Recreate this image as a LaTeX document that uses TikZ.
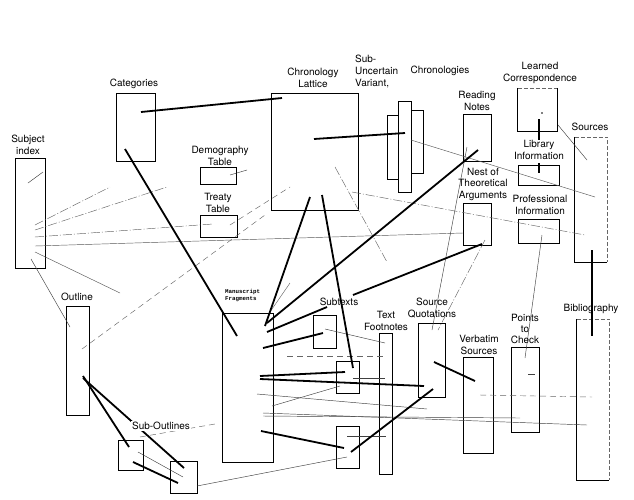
\documentclass[tikz,border=0pt]{standalone}
\usepackage{fontspec}
\setmainfont{TeX Gyre Heros}
\newfontfamily\mffont{Liberation Mono}
\usetikzlibrary{fit}
\begin{document}
\begin{tikzpicture}[x=1pt,y=-1pt,
  box/.style={draw, line width=0.7pt, inner sep=0pt},
  nobox/.style={inner sep=0pt},
  lbl/.style={font=\fontsize{10}{12}\selectfont, align=center, inner sep=0pt},
  link/.style={line width=1.8pt},
  thinl/.style={line width=0.45pt, black!75},
  faint/.style={line width=0.45pt, black!60, dash pattern=on 9pt off 2pt on 1pt off 2pt},
  dashl/.style={line width=0.45pt, black!60, dash pattern=on 6pt off 4pt},
  edgefaint/.style={line width=0.6pt, dash pattern=on 4pt off 2pt}]
\fill[white] (0,0) rectangle (634,499);
\useasboundingbox (0,0) rectangle (634,499);

% ---------- boxes ----------
\node[box, fit={(15,158) (45,268)}] (si) {};
\node[box, fit={(116,93) (155,161)}] (cat) {};
\node[box, fit={(200,167) (236,184)}] (demo) {};
\node[box, fit={(200,215) (237,237)}] (treaty) {};
\node[box, fit={(271,93) (358,210)}] (cl) {};
\node[box, fit={(387,115) (398,179)}] (suA) {};
\node[box, fit={(411,110) (423,173)}] (suC) {};
\node[box, fit={(398,101) (411,192)}] (suB) {};
\node[box, fit={(463,114) (491,161)}] (rn) {};
\node[box, fit={(463,203) (491,245)}] (nest) {};
\node[nobox, fit={(518,88) (557,131)}] (lc) {};
\draw[line width=0.7pt] (lc.north west) -- (lc.south west) -- (lc.south east) -- (lc.north east);
\draw[edgefaint, black!60] (lc.north west) -- (lc.north east);
\node[box, fit={(518,165) (559,185)}] (lib) {};
\node[box, fit={(518,219) (559,243)}] (prof) {};
\node[nobox, fit={(575,137) (607,262)}] (src) {};
\draw[line width=0.7pt] (src.north west) -- (src.south west) -- (src.south east);
\draw[edgefaint, black!60] (src.north west) -- (src.north east) -- (src.south east);
\node[nobox, fit={(577,319) (609,480)}] (bib) {};
\draw[line width=0.7pt] (bib.north west) -- (bib.south west) -- (bib.south east);
\draw[edgefaint, black!60] (bib.north west) -- (bib.north east) -- (bib.south east);
\node[box, fit={(66,306) (89,415)}] (outl) {};
\node[box, fit={(118,440) (143,470)}] (so1) {};
\node[box, fit={(170,461) (197,493)}] (so2) {};
\node[box, fit={(222,313) (273,462)}] (mf) {};
\node[box, fit={(313,315) (336,348)}] (st1) {};
\node[box, fit={(336,361) (359,393)}] (st2) {};
\node[box, fit={(336,426) (359,468)}] (st3) {};
\node[box, fit={(379,333) (392,474)}] (tf) {};
\node[box, fit={(418,323) (445,397)}] (sq) {};
\node[box, fit={(463,357) (493,453)}] (vs) {};
\node[box, fit={(511,347) (539,432)}] (ptc) {};

% ---------- end points ----------
\coordinate (catA) at (141,112);  \coordinate (clA) at (282,98);
\coordinate (clB) at (314,139);   \coordinate (suX) at (405,133);
\coordinate (catB) at (125,149);  \coordinate (mfA) at (237,336);
\coordinate (clC) at (310,197);   \coordinate (mfB) at (265,326);
\coordinate (clD) at (322,195);   \coordinate (st2A) at (353,368);
\coordinate (rnA) at (478,150);   \coordinate (mfC) at (267,323);
\coordinate (nestA) at (482,244); \coordinate (stlA) at (353,295);
\coordinate (mfD) at (267,332);   \coordinate (stlB) at (327,307);
\coordinate (mfE) at (263,348);   \coordinate (st1A) at (323,333);
\coordinate (mfF) at (260,376);   \coordinate (st2B) at (345,372);
\coordinate (mfG) at (260,379);   \coordinate (sqA) at (424,386);
\coordinate (mfH) at (261,431);   \coordinate (st3A) at (344,448);
\coordinate (st3B) at (351,452);  \coordinate (sqB) at (433,389);
\coordinate (sqC) at (434,362);   \coordinate (vsA) at (475,381);
\coordinate (olA) at (83,376);    \coordinate (so1A) at (129,447);
\coordinate (olB) at (83,378);    \coordinate (so2A) at (184,468);
\coordinate (so1B) at (133,462);  \coordinate (so2B) at (178,483);
\coordinate (srcA) at (592,250);  \coordinate (bibA) at (592,336);
\coordinate (lcA) at (539,119);   \coordinate (libA) at (539,140);
\coordinate (libB) at (539,163);  \coordinate (libC) at (539,173);

% ---------- faint links ----------
\draw[faint] (35,225) -- (110,187);
\draw[faint] (35,230) -- (167,187);
\draw[faint] (35,237) -- (213,224);
\draw[thinl, black!65] (35,246) -- (463,233);
\draw[thinl, black!65] (35,252) -- (120,293);
\draw[thinl] (31,259) -- (70,327);
\draw[thinl] (28,183) -- (43,172);
\draw[thinl] (230,175) -- (247,170);
\draw[dashl] (230,225) -- (290,187);
\draw[dashl] (82,349) -- (265,215);
\draw[thinl, black!65] (411,140) -- (595,197);
\draw[faint] (352,192) -- (585,235);
\draw[thinl] (467,147) -- (432,330);
\draw[faint] (485,240) -- (438,330);
\draw[thinl] (542,235) -- (525,358);
\draw[faint] (335,167) -- (387,262);
\draw[thinl] (558,125) -- (587,160);
\draw[thinl, black!60] (270,312) -- (290,283);
\draw[thinl] (138,452) -- (183,477);
\draw[thinl] (197,486) -- (347,457);
\draw[dashl] (140,437) -- (215,424);
\draw[thinl] (257,394) -- (427,409);
\draw[thinl] (263,413) -- (587,425);
\draw[thinl] (263,416) -- (520,418);
\draw[thinl] (340,386) -- (272,406);
\draw[thinl] (325,329) -- (385,343);
\draw[dashl] (287,356) -- (385,356);
\draw[thinl] (353,378) -- (385,378);
\draw[thinl] (347,436) -- (386,436);
\draw[dashl] (480,395) -- (592,397);
\draw[thinl] (528,374) -- (535,374);
\fill (542,113) circle (0.8);

% ---------- heavy links ----------
\draw[link] (catA) -- (clA);
\draw[link] (clB) -- (suX);
\draw[link] (catB) -- (mfA);
\draw[link] (clC) -- (mfB);
\draw[link] (clD) -- (st2A);
\draw[link] (rnA) -- (mfC);
\draw[link] (nestA) -- (stlA);
\draw[link] (mfD) -- (stlB);
\draw[link] (mfE) -- (st1A);
\draw[link] (mfF) -- (st2B);
\draw[link] (mfG) -- (sqA);
\draw[link] (mfH) -- (st3A);
\draw[link] (st3B) -- (sqB);
\draw[link] (sqC) -- (vsA);
\draw[link] (olA) -- (so1A);
\draw[link] (olB) -- (so2A);
\draw[link] (so1B) -- (so2B);
\draw[link] (srcA) -- (bibA);
\draw[link] (lcA) -- (libA);
\draw[link] (libB) -- (libC);

% ---------- labels ----------
\node[lbl] (siL) at (28,145) {Subject\\index};
\node[lbl] (catL) at (134,84) {Categories};
\node[lbl] (demoL) at (220,156) {Demography\\Table};
\node[lbl] (treatyL) at (218,203) {Treaty\\Table};
\node[lbl] (clL) at (313,78) {Chronology\\Lattice};
\node[lbl, align=left, anchor=west] (suL) at (355,71) {Sub-\\Uncertain\\Variant,};
\node[lbl] (chrL) at (440,71) {Chronologies};
\node[lbl] (rnL) at (477,101) {Reading\\Notes};
\node[lbl] (lcL) at (540,73) {Learned\\Correspondence};
\node[lbl] (libL) at (539,150) {Library\\Information};
\node[lbl, font=\fontsize{10}{11.5}\selectfont] (nestL) at (483,184) {Nest of\\Theoretical\\Arguments};
\node[lbl] (profL) at (540,205) {Professional\\Information};
\node[lbl] (srcL) at (590,127) {Sources};
\node[lbl] (outlL) at (77,297) {Outline};
\node[lbl, fill=white, inner sep=1pt] (soL) at (161,426) {Sub-Outlines};
\node[lbl, align=left, anchor=west, font=\mffont\bfseries\fontsize{5.8}{7}\selectfont] (mfL) at (225,296) {Manuscript\\Fragments};
\node[lbl] (stL) at (339,302) {Subtexts};
\node[lbl] (tfL) at (386,321) {Text\\Footnotes};
\node[lbl] (sqL) at (432,308) {Source\\Quotations};
\node[lbl] (vsL) at (479,345) {Verbatim\\Sources};
\node[lbl, font=\fontsize{10}{11}\selectfont] (ptcL) at (525,329) {Points\\to\\Check};
\node[lbl] (bibL) at (591,309) {Bibliography};
\end{tikzpicture}
\end{document}
